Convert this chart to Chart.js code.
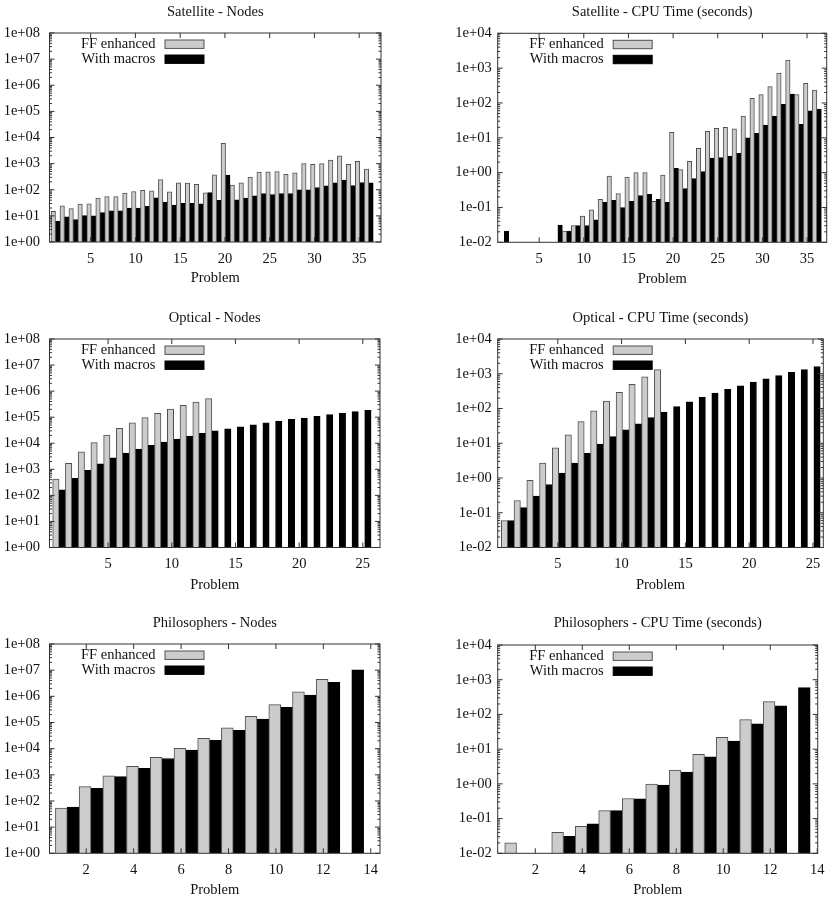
<!DOCTYPE html>
<html>
<head>
<meta charset="utf-8">
<script src="https://cdn.jsdelivr.net/npm/chart.js@4.4.1/dist/chart.umd.min.js"></script>
<style>
  body { margin: 0; background: #fff; }
  #wrap { position: relative; width: 835px; height: 897px; }
  .box { position: absolute; }
</style>
</head>
<body>
<div id="wrap"></div>
<script>
// series names
const seriesLabels = ['FF enhanced', 'With macros'];

// Satellite
const satFFNodes = [15, 24, 19, 28, 29, 48, 55, 55, 74, 86, 94, 91, 246, 83, 184, 180, 160, 76, 375, 6000, 150, 185, 305, 475, 490, 500, 385, 448, 1000, 935, 1000, 1370, 2000, 935, 1230, 617];
const satMacroNodes = [6.2, 9.1, 7.2, 10.3, 10, 13.4, 15.5, 15.5, 20, 20, 23, 49, 33, 26, 30, 30, 29, 78, 39, 363, 41, 48, 58, 72, 66, 72, 72, 99, 99, 122, 141, 184, 233, 145, 190, 184];
const satFFCpu = [null, null, null, null, null, null, null, 0.021, 0.03, 0.057, 0.085, 0.17, 0.8, 0.25, 0.74, 1.0, 1.0, 0.15, 0.85, 14.4, 1.22, 2.1, 5, 15.4, 18.7, 20, 18, 42, 135, 174, 295, 725, 1700, 175, 365, 235];
const satMacroCpu = [0.021, null, null, null, null, null, 0.031, 0.021, 0.03, 0.03, 0.044, 0.14, 0.16, 0.1, 0.15, 0.22, 0.24, 0.17, 0.14, 1.33, 0.35, 0.67, 1.07, 2.6, 2.7, 3.0, 3.6, 10, 13.5, 23, 42, 91, 181, 24.5, 59, 67];

// Optical
const optFFNodes = [420, 1700, 4700, 10500, 20500, 37000, 61000, 96000, 141000, 205000, 284000, 383000, 515000];
const optMacroNodes = [165, 450, 910, 1630, 2770, 4200, 6000, 8300, 11200, 14500, 19000, 24000, 30000, 36000, 43000, 51000, 61000, 71000, 83000, 93000, 108000, 125000, 141000, 163000, 183000];
const optFFCpu = [0.06, 0.225, 0.85, 2.7, 7.4, 17.5, 42, 85, 163, 290, 500, 815, 1310];
const optMacroCpu = [0.06, 0.14, 0.3, 0.65, 1.38, 2.7, 5.1, 9.4, 15.5, 24.5, 36.5, 55, 79, 113, 156, 208, 277, 355, 450, 575, 720, 880, 1100, 1320, 1620];

// Philosophers
const phiFFNodes = [54, 354, 905, 2100, 4700, 10300, 24700, 62000, 173000, 480000, 1500000, 4450000];
const phiMacroNodes = [59, 305, 850, 1780, 4200, 8900, 21000, 50000, 136000, 380000, 1120000, 3450000, 10200000];
const phiFFCpu = [0.02, null, 0.04, 0.06, 0.17, 0.38, 0.99, 2.5, 7.1, 21.8, 71, 233];
const phiMacroCpu = [null, null, 0.031, 0.071, 0.17, 0.37, 0.93, 2.2, 6.0, 17, 54, 178, 590];

// tick values
const nodeTicks = [1, 10, 100, 1e3, 1e4, 1e5, 1e6, 1e7, 1e8];
const cpuTicks = [0.01, 0.1, 1, 10, 100, 1000, 10000];

const FONT = '"Liberation Serif", "Times New Roman", serif';
const FS = 14.5;
const TEXT = '#111';
const GRAY = '#cccccc';
const GRAY_EDGE = '#505050';

// page geometry: box = canvas [x, y, w, h], plot = [left, top, right, bottom]
const panels = [
  { title: 'Satellite - Nodes', ff: satFFNodes, mac: satMacroNodes, ticks: nodeTicks, step: 5,
    box: [0, 0, 417, 299], plot: [49.5, 33, 381, 242], titleY: 12, xTitleY: 278.5,
    barRange: [0.33, 37.37], tickRange: [0.40, 37.44], yPad: 9.5 },
  { title: 'Satellite - CPU Time (seconds)', ff: satFFCpu, mac: satMacroCpu, ticks: cpuTicks, step: 5,
    box: [417, 0, 418, 299], plot: [497.7, 33.3, 826.7, 242.3], titleY: 12, xTitleY: 279,
    barRange: [0.26, 37.1], tickRange: [0.36, 37.2], yPad: 6 },
  { title: 'Optical - Nodes', ff: optFFNodes, mac: optMacroNodes, ticks: nodeTicks, step: 5,
    box: [0, 299, 417, 300], plot: [49.5, 339, 380, 547.5], titleY: 318.3, xTitleY: 585,
    barRange: [0.25, 26.2], tickRange: [0.40, 26.35], yPad: 9.5 },
  { title: 'Optical - CPU Time (seconds)', ff: optFFCpu, mac: optMacroCpu, ticks: cpuTicks, step: 5,
    box: [417, 299, 418, 300], plot: [497.7, 339, 823.3, 547.5], titleY: 318, xTitleY: 585,
    barRange: [0.22, 25.74], tickRange: [0.29, 25.81], yPad: 6 },
  { title: 'Philosophers - Nodes', ff: phiFFNodes, mac: phiMacroNodes, ticks: nodeTicks, step: 2,
    box: [0, 599, 417, 298], plot: [49.5, 644, 380, 853.3], titleY: 622.7, xTitleY: 890,
    barRange: [0.25, 14.19], tickRange: [0.45, 14.39], yPad: 9.5 },
  { title: 'Philosophers - CPU Time (seconds)', ff: phiFFCpu, mac: phiMacroCpu, ticks: cpuTicks, step: 2,
    box: [417, 599, 418, 298], plot: [497.7, 645, 817.7, 853.3], titleY: 623, xTitleY: 890.5,
    barRange: [0.2, 13.82], tickRange: [0.4, 14.02], yPad: 6 }
];

function expLabel(v) {
  const e = Math.round(Math.log10(v));
  return '1e' + (e < 0 ? '-' : '+') + String(Math.abs(e)).padStart(2, '0');
}

function toPoints(vals) {
  return vals.map((v, i) => ({ x: i + 1, y: v }));
}

// gnuplot style border, inward tics and key inside the plot
const framePlugin = {
  id: 'frame',
  afterDatasetsDraw(chart) {
    const { ctx, chartArea: a } = chart;
    const y = chart.scales.y;
    const xt = chart.scales.xt;
    ctx.save();
    ctx.strokeStyle = '#333';
    ctx.lineWidth = 1;
    ctx.beginPath();
    y.ticks.forEach(t => {
      const py = y.getPixelForValue(t.value);
      ctx.moveTo(a.left, py); ctx.lineTo(a.left + 5, py);
      ctx.moveTo(a.right, py); ctx.lineTo(a.right - 5, py);
      for (let m = 2; m < 10; m++) {
        const v = t.value * m;
        if (v >= y.max) break;
        const pm = y.getPixelForValue(v);
        ctx.moveTo(a.left, pm); ctx.lineTo(a.left + 2.5, pm);
        ctx.moveTo(a.right, pm); ctx.lineTo(a.right - 2.5, pm);
      }
    });
    xt.ticks.forEach(t => {
      const px = xt.getPixelForValue(t.value);
      ctx.moveTo(px, a.bottom); ctx.lineTo(px, a.bottom - 5);
      ctx.moveTo(px, a.top); ctx.lineTo(px, a.top + 5);
    });
    ctx.stroke();
    ctx.strokeRect(a.left, a.top, a.right - a.left, a.bottom - a.top);

    // key
    ctx.font = FS + 'px ' + FONT;
    ctx.textAlign = 'right';
    ctx.textBaseline = 'middle';
    chart.data.datasets.forEach((ds, i) => {
      const cy = a.top + 11.2 + i * 15;
      ctx.fillStyle = TEXT;
      ctx.fillText(ds.label, a.left + 106, cy);
      ctx.fillStyle = ds.backgroundColor;
      ctx.fillRect(a.left + 115.5, cy - 4.2, 39, 8.4);
      ctx.strokeStyle = ds.borderColor;
      ctx.strokeRect(a.left + 115.5, cy - 4.2, 39, 8.4);
    });
    ctx.restore();
  }
};

const wrap = document.getElementById('wrap');
const lh = FS * 1.2;

panels.forEach(p => {
  const [bx, by, bw, bh] = p.box;
  const [pl, pt, pr, pb] = p.plot;
  const div = document.createElement('div');
  div.className = 'box';
  div.style.left = bx + 'px';
  div.style.top = by + 'px';
  div.style.width = bw + 'px';
  div.style.height = bh + 'px';
  const canvas = document.createElement('canvas');
  canvas.width = bw;
  canvas.height = bh;
  canvas.style.width = bw + 'px';
  canvas.style.height = bh + 'px';
  div.appendChild(canvas);
  wrap.appendChild(div);

  const titleTop = p.titleY - by - lh / 2;
  const titleBottom = pt - by - titleTop - lh;
  const xAxisH = by + bh - pb;
  const xTitlePad = (by + bh - p.xTitleY) - lh / 2;
  const yAxisW = pl - bx;

  new Chart(canvas, {
    type: 'bar',
    data: {
      datasets: [
        { label: seriesLabels[0], data: toPoints(p.ff), xAxisID: 'x', yAxisID: 'y',
          backgroundColor: GRAY, borderColor: GRAY_EDGE, borderWidth: 1 },
        { label: seriesLabels[1], data: toPoints(p.mac), xAxisID: 'x', yAxisID: 'y',
          backgroundColor: '#000', borderColor: '#000', borderWidth: 1 }
      ]
    },
    options: {
      responsive: false,
      animation: false,
      devicePixelRatio: 1,
      layout: { padding: { left: 0, top: 0, bottom: 0, right: bx + bw - pr } },
      datasets: { bar: { categoryPercentage: 1, barPercentage: 1 } },
      plugins: {
        legend: { display: false },
        tooltip: { enabled: false },
        title: {
          display: true, text: p.title, color: TEXT, fullSize: false,
          font: { family: FONT, size: FS, weight: 'normal' },
          padding: { top: titleTop, bottom: titleBottom }
        }
      },
      scales: {
        x: {
          type: 'linear', display: false, offset: false,
          min: p.barRange[0], max: p.barRange[1]
        },
        xt: {
          type: 'linear', position: 'bottom', offset: false,
          min: p.tickRange[0], max: p.tickRange[1],
          grid: { display: false, drawTicks: false, tickLength: 0 }, border: { display: false },
          ticks: { stepSize: p.step, includeBounds: false, autoSkip: false, maxRotation: 0,
                   padding: 8, color: TEXT, font: { family: FONT, size: FS } },
          title: { display: true, text: 'Problem', color: TEXT,
                   font: { family: FONT, size: FS }, padding: { top: 0, bottom: xTitlePad } },
          afterFit: s => { s.height = xAxisH; }
        },
        y: {
          type: 'logarithmic', position: 'left',
          min: p.ticks[0], max: p.ticks[p.ticks.length - 1],
          grid: { display: false, drawTicks: false, tickLength: 0 }, border: { display: false },
          afterBuildTicks: s => { s.ticks = p.ticks.map(v => ({ value: v })); },
          ticks: { callback: v => expLabel(v), padding: p.yPad, color: TEXT,
                   font: { family: FONT, size: FS } },
          afterFit: s => { s.width = yAxisW; }
        }
      }
    },
    plugins: [framePlugin]
  });
});
</script>
</body>
</html>
